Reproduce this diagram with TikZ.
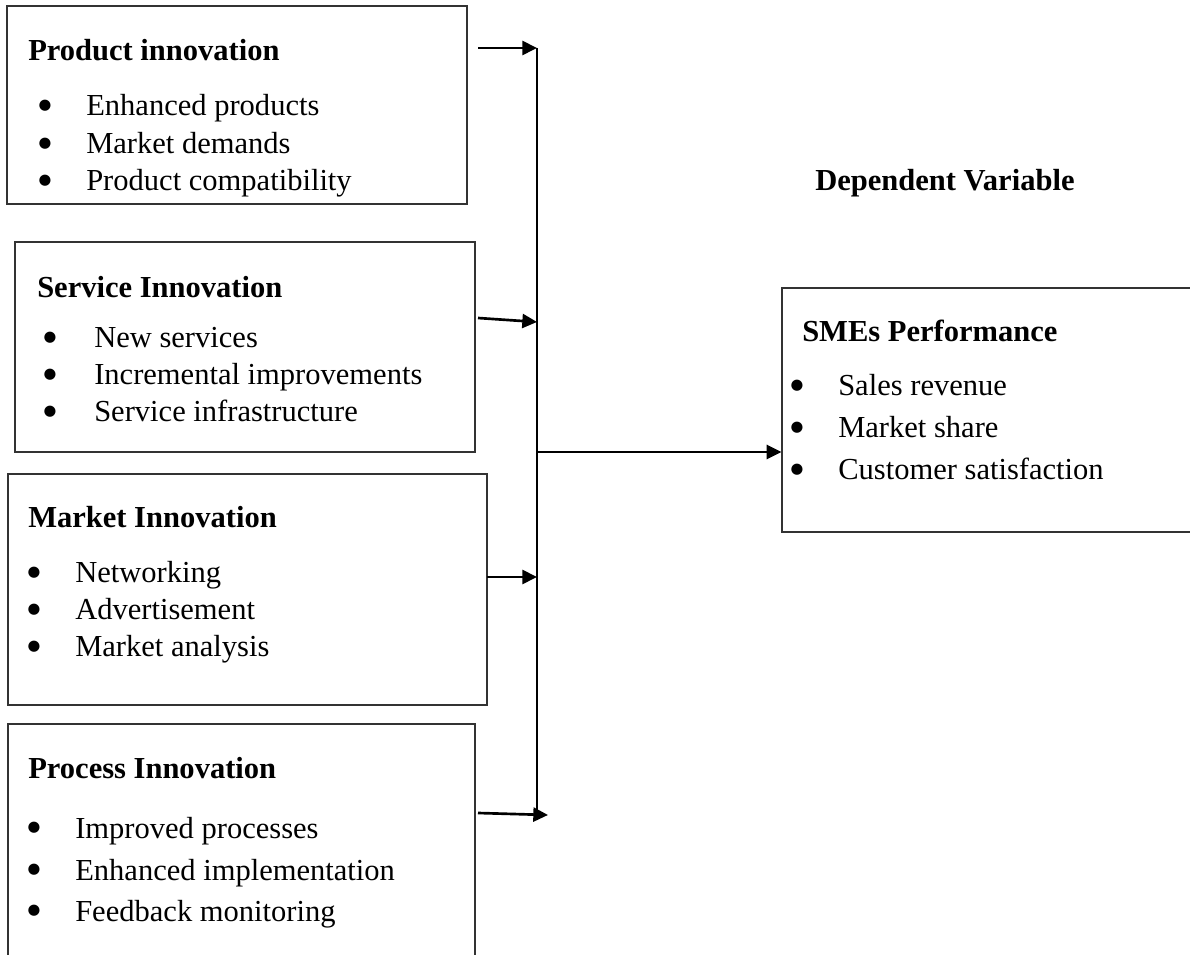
\documentclass[tikz,border=0pt]{standalone}
\usepackage{fontspec}
\setmainfont{Liberation Serif}
\newfontfamily\dejavu{DejaVu Sans}
\usetikzlibrary{arrows.meta,fit}
\begin{document}
\begin{tikzpicture}[x=0.75pt,y=-0.75pt,
  box/.style={draw=black!80, line width=0.9pt, inner sep=0pt},
  ttl/.style={anchor=base west, inner sep=0pt, font=\fontsize{22.9}{27}\selectfont\bfseries},
  itm/.style={anchor=base west, inner sep=0pt, font=\fontsize{22.9}{27}\selectfont},
  bul/.style={anchor=base, inner sep=0pt, yshift=5.2pt, font=\dejavu\fontsize{11}{12}\selectfont},
  conn/.style={line width=2pt},
  arr/.style={conn, -{Triangle[length=11pt,width=10.5pt]}}]
\useasboundingbox (0,0) rectangle (1190,955);
\clip (0,0) rectangle (1190,955);
\fill[white] (0,0) rectangle (1190,955);

% Box 1
\node[box, fit={(7,6) (467,204)}] (b1) {};
\node[ttl] (t1) at (28,61) {Product innovation};
\node[bul] (d11) at (45,116) {●}; \node[itm] (i11) at (86,116) {Enhanced products};
\node[bul] (d12) at (45,154) {●}; \node[itm] (i12) at (86,154) {Market demands};
\node[bul] (d13) at (45,191) {●}; \node[itm] (i13) at (86,191) {Product compatibility};

% Box 2
\node[box, fit={(15,242) (475,452)}] (b2) {};
\node[ttl] (t2) at (37,298) {Service Innovation};
\node[bul] (d21) at (50,348) {●}; \node[itm] (i21) at (94,348) {New services};
\node[bul] (d22) at (50,385) {●}; \node[itm] (i22) at (94,385) {Incremental improvements};
\node[bul] (d23) at (50,422) {●}; \node[itm] (i23) at (94,422) {Service infrastructure};

% Box 3
\node[box, fit={(8,474) (487,705)}] (b3) {};
\node[ttl] (t3) at (28,528) {Market Innovation};
\node[bul] (d31) at (34,583) {●}; \node[itm] (i31) at (75,583) {Networking};
\node[bul] (d32) at (34,620) {●}; \node[itm] (i32) at (75,620) {Advertisement};
\node[bul] (d33) at (34,657) {●}; \node[itm] (i33) at (75,657) {Market analysis};

% Box 4
\node[box, fit={(8,724) (475,975)}] (b4) {};
\node[ttl] (t4) at (28,778) {Process Innovation};
\node[bul] (d41) at (34,838) {●}; \node[itm] (i41) at (75,838) {Improved processes};
\node[bul] (d42) at (34,880) {●}; \node[itm] (i42) at (75,880) {Enhanced implementation};
\node[bul] (d43) at (34,921) {●}; \node[itm] (i43) at (75,921) {Feedback monitoring};

% Dependent variable
\node[ttl] (dv) at (815,191) {Dependent Variable};

% SMEs box
\node[box, fit={(782,288) (1200,532)}] (sme) {};
\node[ttl] (ts) at (802,342) {SMEs Performance};
\node[bul] (ds1) at (797,396) {●}; \node[itm] (is1) at (838,396) {Sales revenue};
\node[bul] (ds2) at (797,438) {●}; \node[itm] (is2) at (838,438) {Market share};
\node[bul] (ds3) at (797,480) {●}; \node[itm] (is3) at (838,480) {Customer satisfaction};

% connectors
\coordinate (s1) at (478,48);  \coordinate (j1) at (537,48);
\coordinate (s2) at (478,318); \coordinate (j2) at (537,322);
\coordinate (s3) at (487,577); \coordinate (j3) at (537,577);
\coordinate (s4) at (478,813); \coordinate (e4) at (548,815);
\coordinate (jb) at (537,814); \coordinate (jm) at (537,452);

\draw[conn] (j1) -- (jb);
\draw[arr] (s1) -- (j1);
\draw[arr] (s2) -- (j2);
\draw[arr] (s3) -- (j3);
\draw[arr] (s4) -- (e4);
\draw[arr] (jm) -- (jm -| sme.west);
\end{tikzpicture}
\end{document}
